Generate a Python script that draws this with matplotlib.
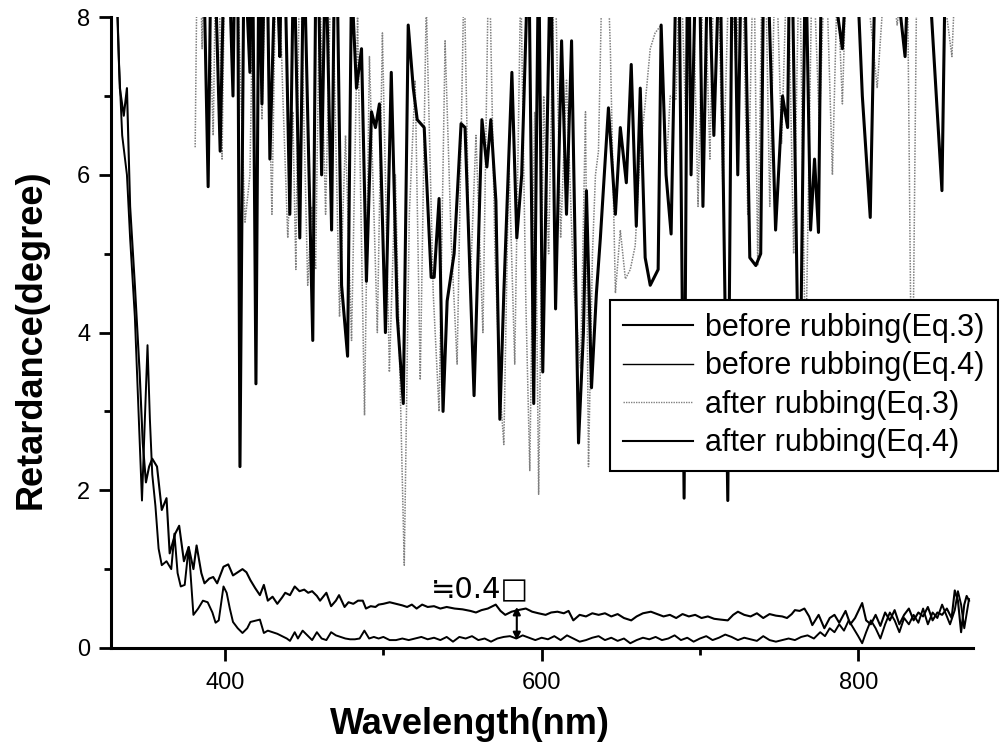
import numpy as np
import matplotlib.pyplot as plt

plt.rcParams['font.family'] = ['Liberation Sans', 'DejaVu Sans']

# before rubbing (Eq.3): (wavelength nm, retardance deg)
before_eq3 = np.array([
    (331, 8.6), (333.5, 7.1), (336, 6.75), (338, 7.1), (340, 5.6), (343, 4.6), (346, 3.5), (348, 2.6),
    (350, 2.1), (352, 2.3), (354, 2.4), (357, 2.3), (360, 1.75), (363, 1.9), (365, 1.2), (368.5, 1.45),
    (371, 1.55), (374, 1.1), (377, 1.28), (380, 1.0), (382, 1.3), (385, 0.95), (387, 0.82), (390, 0.88),
    (392.5, 0.9), (395, 0.82), (399, 1.03), (402, 1.06), (405, 0.92), (408, 0.96), (411, 1.0), (413.5, 0.96),
    (416, 0.86), (419, 0.76), (422, 0.67), (424.5, 0.8), (427, 0.6), (430, 0.65), (433, 0.56), (436, 0.64),
    (438, 0.7), (441, 0.67), (444, 0.78), (447, 0.72), (450, 0.74), (452.5, 0.7), (455, 0.72), (458, 0.66),
    (460, 0.6), (462, 0.65), (464, 0.7), (467, 0.53), (470, 0.6), (472, 0.67), (475.5, 0.52), (478, 0.58),
    (481, 0.56), (484, 0.6), (487, 0.6), (489, 0.5), (492, 0.53), (495, 0.52), (497, 0.55), (500, 0.56),
    (504, 0.58), (508, 0.56), (512, 0.54), (515, 0.52), (518, 0.55), (521, 0.5), (524.5, 0.55), (528, 0.52),
    (532, 0.53), (536, 0.5), (540, 0.52), (545, 0.5), (550, 0.49), (555, 0.47), (558.5, 0.45), (562, 0.48),
    (566, 0.5), (571, 0.55), (574, 0.47), (577, 0.42), (581, 0.46), (585, 0.48), (590, 0.5), (594, 0.46),
    (598, 0.44), (602.5, 0.42), (606, 0.45), (610, 0.46), (614, 0.44), (617, 0.47), (620, 0.35), (624, 0.42),
    (628, 0.4), (632, 0.44), (636, 0.42), (640, 0.44), (644, 0.4), (648, 0.43), (652, 0.38), (656.6, 0.35),
    (660, 0.4), (664, 0.44), (669, 0.46), (673, 0.43), (677, 0.4), (681, 0.42), (685, 0.38), (689, 0.43),
    (693, 0.4), (697, 0.42), (701, 0.38), (705, 0.4), (709, 0.37), (713, 0.36), (717.6, 0.35), (721, 0.42),
    (724, 0.46), (728, 0.42), (732, 0.4), (736, 0.44), (740, 0.38), (744, 0.43), (748, 0.41), (752, 0.4),
    (755, 0.38), (758, 0.43), (760, 0.48), (763, 0.47), (766, 0.5), (769, 0.4), (771, 0.29), (775, 0.42),
    (778.6, 0.25), (782, 0.38), (785, 0.42), (788, 0.32), (792, 0.47), (795, 0.3), (798, 0.38), (802.5, 0.57),
    (805, 0.35), (808, 0.3), (811, 0.42), (814, 0.28), (817, 0.45), (820, 0.35), (823, 0.48), (826, 0.3),
    (829, 0.42), (832, 0.5), (835, 0.35), (838, 0.45), (841, 0.4), (844, 0.52), (847, 0.35), (850, 0.45),
    (853, 0.42), (856, 0.5), (859, 0.38), (861, 0.73), (863, 0.6), (865, 0.2), (867, 0.55), (868.5, 0.66),
    (870, 0.6)])

# before rubbing (Eq.4)
before_eq4 = np.array([
    (330, 9.5), (333, 7.4), (335, 6.5), (338, 6.0), (340, 5.2), (343, 4.2), (345.5, 2.9), (347.5, 1.87),
    (349.5, 3.0), (351, 3.84), (352.5, 2.9), (354, 2.2), (356, 1.8), (358, 1.26), (360, 1.05), (363, 1.1),
    (366, 1.0), (368, 1.45), (370, 0.95), (372, 0.78), (374.5, 0.8), (377, 1.28), (380, 0.42), (383, 0.5),
    (386, 0.6), (389, 0.58), (392, 0.45), (394, 0.32), (396, 0.35), (399, 0.78), (401, 0.7), (403, 0.5),
    (405, 0.33), (408, 0.25), (411, 0.19), (414, 0.25), (416, 0.33), (420, 0.35), (422, 0.36), (424.5, 0.19),
    (427, 0.22), (430, 0.2), (433, 0.18), (436, 0.15), (439, 0.12), (441, 0.09), (444, 0.2), (446, 0.12),
    (449, 0.22), (452, 0.16), (455, 0.1), (458, 0.2), (461, 0.12), (464, 0.1), (467, 0.2), (470, 0.16),
    (473, 0.14), (476, 0.12), (479, 0.11), (482, 0.11), (485, 0.12), (488, 0.22), (491, 0.12), (494, 0.14),
    (497, 0.12), (500, 0.14), (504, 0.1), (508, 0.1), (512, 0.12), (516, 0.1), (520, 0.12), (524, 0.14),
    (528, 0.11), (532, 0.13), (536, 0.1), (540, 0.14), (544, 0.08), (548, 0.14), (552, 0.12), (556, 0.15),
    (560, 0.1), (564, 0.12), (568, 0.08), (572, 0.12), (576, 0.14), (580, 0.15), (584, 0.12), (588, 0.16),
    (592, 0.13), (596, 0.1), (600, 0.13), (604, 0.11), (608, 0.15), (612, 0.1), (616, 0.16), (620, 0.12),
    (624, 0.08), (628, 0.1), (632, 0.13), (636, 0.15), (640, 0.1), (644, 0.13), (648, 0.09), (652, 0.12),
    (656, 0.06), (660, 0.1), (664, 0.13), (668, 0.11), (672, 0.14), (676, 0.1), (680, 0.12), (684, 0.16),
    (688, 0.1), (692, 0.13), (696, 0.08), (700, 0.12), (704, 0.15), (708, 0.1), (712, 0.13), (716, 0.17),
    (720, 0.14), (724, 0.1), (728, 0.13), (732, 0.11), (736, 0.09), (740, 0.15), (744, 0.1), (748, 0.08),
    (752, 0.1), (756, 0.12), (760, 0.1), (764, 0.14), (768, 0.16), (772, 0.12), (776, 0.2), (779, 0.15),
    (782, 0.25), (785, 0.2), (788, 0.3), (791, 0.22), (794, 0.35), (797, 0.25), (800, 0.15), (802.5, 0.06),
    (805, 0.2), (808, 0.35), (811, 0.25), (814, 0.12), (817, 0.3), (820, 0.45), (823, 0.35), (826, 0.2),
    (829, 0.38), (832, 0.3), (835, 0.42), (838, 0.32), (841, 0.5), (844, 0.3), (847, 0.45), (850, 0.38),
    (853, 0.55), (856, 0.4), (858, 0.3), (861, 0.48), (863, 0.72), (865, 0.55), (867, 0.25), (869, 0.5),
    (870, 0.62)])

# after rubbing (Eq.3) - values above 8 run off the top of the plot
after_eq3 = np.array([
    (381.1, 6.35), (383.0, 10), (385.5, 7.6), (387.4, 10), (392.5, 6.5), (395.0, 10), (398.1, 6.2),
    (400.6, 10), (404.4, 7.3), (406.9, 9), (412.6, 5.4), (415.7, 6.0), (418.9, 10), (423.3, 6.7),
    (425.8, 9), (429.6, 5.5), (432.7, 9.5), (436.5, 7.0), (439.6, 5.2), (442.8, 6.8), (444.7, 4.8),
    (447.2, 9), (452.2, 4.6), (454.7, 5.6), (457.2, 4.8), (459.8, 8.5), (463.5, 5.5), (467.3, 9),
    (472.3, 4.2), (476.1, 6.5), (479.9, 3.9), (483.7, 8.0), (488.1, 2.95), (491.2, 7.5), (496.2, 4.0),
    (499.4, 7.8), (503.8, 3.5), (507.6, 6.0), (513.2, 1.05), (516.4, 5.5), (520.1, 7.2), (523.3, 3.4),
    (527.1, 8.2), (531.5, 4.5), (535.2, 3.0), (539.0, 7.7), (542.8, 5.2), (546.6, 3.6), (551.0, 8.6),
    (554.7, 4.5), (558.5, 6.5), (562.9, 4.0), (566.7, 9), (570.5, 5.0), (573.6, 3.3), (576.1, 2.58),
    (579.3, 6.2), (583.0, 3.6), (586.8, 8.5), (590.0, 4.4), (592.5, 2.25), (595.6, 6.8), (598.1, 1.95),
    (601.3, 7.0), (604.4, 5.0), (608.2, 9), (612.0, 5.2), (615.7, 7.2), (620.2, 4.6), (624.6, 3.55),
    (627.7, 6.8), (629.6, 2.3), (632.1, 5.0), (634.0, 6.0), (635.9, 6.3), (639.6, 10), (643.4, 7.6),
    (646.6, 4.5), (649.7, 5.3), (652.9, 4.68), (656.0, 4.8), (659.1, 5.1), (662.3, 6.3), (665.4, 6.9),
    (668.6, 7.6), (671.7, 7.8), (675.5, 7.9), (678.6, 6.0), (681.2, 7.0), (684.9, 6.95), (687.5, 9),
    (691.3, 6.5), (695.0, 9), (698.8, 5.6), (702.5, 9), (706.3, 6.2), (710.1, 10), (714.5, 5.8),
    (718.9, 9), (722.7, 7.4), (726.5, 9), (730.2, 5.5), (734.0, 9), (736.5, 4.85), (740.3, 10),
    (744.1, 5.6), (747.8, 9), (751.6, 6.4), (755.4, 9), (759.2, 5.0), (762.9, 9), (766.7, 3.5),
    (771.1, 9), (775.5, 6.6), (779.3, 9), (783.7, 6.0), (786.8, 8.5), (790.0, 6.9), (793.1, 9),
    (798.2, 8.6), (802.6, 9), (812.0, 7.1), (818.3, 9), (824.6, 7.9), (830.9, 9), (834.0, 2.5),
    (837.2, 9), (849.7, 9), (859.2, 7.5), (862.3, 9), (870.5, 9)])

# after rubbing (Eq.4)
after_eq4 = np.array([
    (384.3, 12), (386.2, 9), (389.3, 5.85), (391.8, 10), (396.9, 6.3), (400.6, 10), (405.0, 7.0),
    (407.5, 11), (409.4, 2.3), (412.0, 9), (415.7, 7.3), (417.0, 10), (419.5, 3.35), (421.4, 9),
    (423.3, 6.9), (425.8, 10), (428.3, 6.2), (432.1, 9), (434.6, 7.5), (436.5, 10), (440.9, 5.5),
    (443.4, 9), (447.2, 5.2), (449.7, 9), (455.4, 3.9), (457.9, 10), (461.0, 6.0), (463.5, 9),
    (467.3, 5.3), (469.8, 10), (473.6, 4.6), (477.4, 3.7), (479.9, 8.5), (483.0, 7.1), (486.2, 7.6),
    (489.3, 4.65), (492.5, 6.8), (495.0, 6.6), (497.5, 6.9), (501.3, 4.0), (505.0, 7.3), (508.8, 4.2),
    (512.6, 3.1), (515.7, 7.9), (518.9, 7.1), (521.4, 6.7), (525.8, 6.6), (530.2, 4.7), (532.1, 4.7),
    (535.2, 5.7), (537.7, 3.0), (540.3, 4.4), (544.7, 5.0), (549.1, 6.65), (551.6, 6.6), (553.5, 5.46),
    (557.3, 3.2), (562.3, 6.7), (565.4, 6.1), (567.9, 6.7), (571.1, 5.67), (573.6, 2.9), (576.1, 4.5),
    (581.2, 7.3), (584.3, 5.2), (587.4, 6.0), (591.8, 9), (595.0, 3.1), (598.1, 9), (600.7, 3.5),
    (605.7, 9), (608.8, 4.3), (612.6, 7.7), (615.7, 5.5), (618.9, 7.7), (623.3, 2.6), (626.4, 4.0),
    (628.3, 5.8), (631.5, 3.3), (634.6, 4.5), (637.1, 5.2), (642.2, 6.85), (646.6, 5.5), (649.7, 6.6),
    (653.5, 5.9), (656.6, 7.4), (659.8, 5.35), (662.3, 7.1), (665.4, 4.95), (668.6, 4.6), (673.6, 4.8),
    (675.5, 7.9), (678.6, 6.0), (681.8, 5.25), (686.2, 10), (690.0, 1.9), (692.5, 10), (694.4, 6.0),
    (698.8, 10), (701.9, 5.6), (705.1, 9), (708.8, 6.5), (712.6, 9), (717.6, 1.87), (720.8, 10),
    (723.9, 6.0), (727.1, 10), (731.5, 4.95), (735.3, 4.85), (738.4, 5.0), (740.9, 10), (747.8, 5.3),
    (752.2, 7.0), (755.4, 6.6), (757.3, 10), (762.9, 2.5), (766.7, 9), (769.9, 5.3), (772.4, 6.2),
    (774.9, 5.27), (777.4, 10), (783.7, 8.5), (790.0, 7.6), (796.3, 10), (802.6, 7.0), (807.6, 5.46),
    (812.0, 10), (821.4, 9), (829.6, 7.5), (834.0, 10), (843.4, 9), (852.9, 5.8), (856.0, 10),
    (865.5, 9.5), (870.5, 9)])

labels = ['before rubbing(Eq.3)', 'before rubbing(Eq.4)', 'after rubbing(Eq.3)', 'after rubbing(Eq.4)']
gap_text = '\u2252' + '0.4\u25a1'
gap_wl = 584.3      # where the double arrow sits
gap_lo, gap_hi = 0.1, 0.52

fig = plt.figure(figsize=(10.01, 7.46), dpi=100)
ax = fig.add_axes([0.111, 0.1314, 0.861, 0.8456])

l1, = ax.plot(before_eq3[:, 0], before_eq3[:, 1], color='k', lw=1.5)
l2, = ax.plot(before_eq4[:, 0], before_eq4[:, 1], color='k', lw=1.4)
l3, = ax.plot(after_eq3[:, 0], after_eq3[:, 1], color='0.5', lw=1.1, ls=(0, (1, 0.8)))
l4, = ax.plot(after_eq4[:, 0], after_eq4[:, 1], color='k', lw=2.2)

ax.set_xlim(328, 872.5)
ax.set_ylim(0, 8)
ax.set_xticks([400, 600, 800])
ax.set_xticks([500, 700], minor=True)
ax.set_yticks([0, 2, 4, 6, 8])
ax.set_yticks([1, 3, 5, 7], minor=True)

for s in ['top', 'right']:
    ax.spines[s].set_visible(False)
for s in ['left', 'bottom']:
    ax.spines[s].set_linewidth(2.2)
ax.tick_params(which='major', direction='out', length=9, width=2, labelsize=17)
ax.tick_params(which='minor', direction='out', length=5, width=2)
ax.tick_params(axis='x', which='major', pad=8)
ax.tick_params(axis='y', which='major', pad=6)

ax.set_xlabel('Wavelength(nm)', fontsize=26, fontweight='bold')
ax.xaxis.set_label_coords(0.416, -0.094)
ax.set_ylabel('Retardance(degree)', fontsize=26, fontweight='bold')
ax.yaxis.set_label_coords(-0.072, 0.49)

ax.text(530.2, 0.645, gap_text, fontsize=21, ha='left', va='baseline', family='DejaVu Sans')
ax.annotate('', xy=(gap_wl, gap_lo), xytext=(gap_wl, gap_hi),
            arrowprops=dict(arrowstyle='<|-|>', color='k', lw=1.5, mutation_scale=11,
                            shrinkA=0, shrinkB=0))

leg = ax.legend([l1, l2, l3, l4], labels, loc='upper left',
                bbox_to_anchor=(0.6094, 0.5979), bbox_transform=fig.transFigure,
                fontsize=22, frameon=True, fancybox=False, framealpha=1,
                edgecolor='k', handlelength=2.3, handletextpad=0.4,
                labelspacing=0.28, borderpad=0.42, borderaxespad=0)
leg.get_frame().set_linewidth(1.5)
leg.set_zorder(10)
for h, w in zip(leg.get_lines(), [1.5, 1.0, 1.0, 1.5]):
    h.set_linewidth(w)

fig.savefig('out.png', dpi=100)
